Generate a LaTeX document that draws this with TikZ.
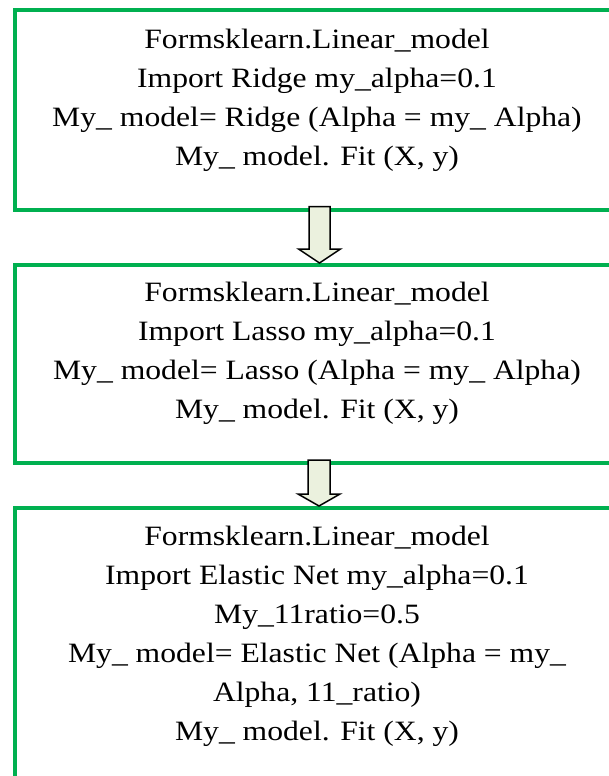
\documentclass[tikz,border=0pt]{standalone}
\usepackage{fontspec}
\setmainfont{Liberation Serif}[FakeStretch=1.13]
\usetikzlibrary{calc}
\definecolor{boxgreen}{RGB}{0,176,80}
\definecolor{arrowfill}{RGB}{235,241,222}
\begin{document}
\begin{tikzpicture}[x=1pt,y=-1pt,
  stepbox/.style={draw=boxgreen, line width=4pt, inner sep=0pt, anchor=north west},
  boxtext/.style={align=center, inner sep=0pt, anchor=base,
    font=\fontsize{28}{39}\selectfont},
  blockarrow/.style={draw=black, line width=1.5pt, fill=arrowfill, line join=miter}]
\useasboundingbox (0,0) rectangle (609,776);
\clip (0,0) rectangle (609,776);

% the three step boxes (they run past the right edge)
\node[stepbox, minimum width=608pt, minimum height=199.5pt] (b1) at (13,8) {};
\node[stepbox, minimum width=608pt, minimum height=198.5pt] (b2) at (13,262.5) {};
\node[stepbox, minimum width=608pt, minimum height=300pt] (b3) at (13,505.5) {};

% box contents, placed by the baseline of their last line
\node[boxtext] (t1) at (317,165) {Formsklearn.Linear\_model\\
  Import Ridge my\_alpha=0.1\\
  My\_ model= Ridge (Alpha = my\_ Alpha)\\
  My\_ model. Fit (X, y)};
\node[boxtext] (t2) at (317,418.5) {Formsklearn.Linear\_model\\
  Import Lasso my\_alpha=0.1\\
  My\_ model= Lasso (Alpha = my\_ Alpha)\\
  My\_ model. Fit (X, y)};
\node[boxtext] (t3) at (317,740) {Formsklearn.Linear\_model\\
  Import Elastic Net my\_alpha=0.1\\
  My\_11ratio=0.5\\
  My\_ model= Elastic Net (Alpha = my\_\\
  Alpha, 11\_ratio)\\
  My\_ model. Fit (X, y)};

% block arrows between the boxes
\coordinate (a1s) at (319.5,206.5);
\coordinate (a1e) at (319.5,263);
\coordinate (a2s) at (319,460);
\coordinate (a2e) at (319,506);
\draw[blockarrow] ($(a1s)+(-10.5,0)$) -- ($(a1e)+(-10.5,-14)$) -- ($(a1e)+(-21,-14)$)
  -- (a1e) -- ($(a1e)+(21,-14)$) -- ($(a1e)+(10.5,-14)$) -- ($(a1s)+(10.5,0)$) -- cycle;
\draw[blockarrow] ($(a2s)+(-11,0)$) -- ($(a2e)+(-11,-12)$) -- ($(a2e)+(-21,-12)$)
  -- (a2e) -- ($(a2e)+(21,-12)$) -- ($(a2e)+(11,-12)$) -- ($(a2s)+(11,0)$) -- cycle;
\end{tikzpicture}
\end{document}
